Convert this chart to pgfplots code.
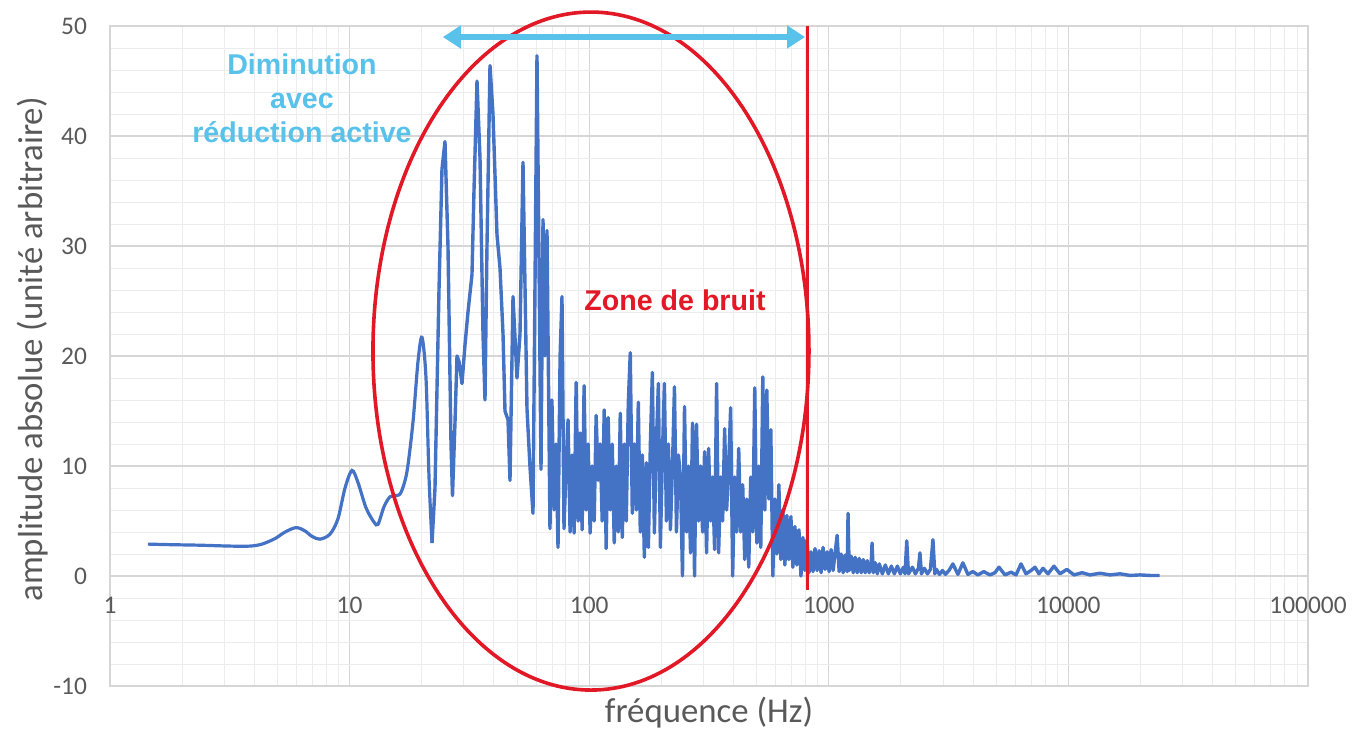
\documentclass[border=0pt]{standalone}
\usepackage{fontspec}
\setmainfont{Carlito}
\newfontfamily\arialfont{Liberation Sans}
\usepackage{pgfplots}
\pgfplotsset{compat=1.18}
\usetikzlibrary{arrows.meta}

\definecolor{curve}{RGB}{68,114,196}
\definecolor{zone}{RGB}{226,24,38}
\definecolor{dimin}{RGB}{88,194,234}
\definecolor{txt}{RGB}{89,89,89}
\definecolor{gridmaj}{RGB}{214,214,214}
\definecolor{gridmin}{RGB}{236,236,236}

\begin{document}
\begin{tikzpicture}
\begin{axis}[
  at={(0,0)}, anchor=south west,
  scale only axis,
  width=599pt, height=330pt,
  xmode=log, log basis x=10,
  xmin=1, xmax=100000,
  ymin=-10, ymax=50,
  xtick={1,10,100,1000,10000,100000},
  xticklabels={1,10,100,1000,10000,100000},
  minor xtick={2,3,4,5,6,7,8,9,20,30,40,50,60,70,80,90,200,300,400,500,600,700,800,900,2000,3000,4000,5000,6000,7000,8000,9000,20000,30000,40000,50000,60000,70000,80000,90000},
  ytick={-10,0,10,20,30,40,50},
  yticklabels={-10,0,10,20,30,40,50},
  minor ytick={-8,-6,-4,-2,2,4,6,8,12,14,16,18,22,24,26,28,32,34,36,38,42,44,46,48},
  grid=both,
  major grid style={draw=gridmaj, line width=0.6pt},
  minor grid style={draw=gridmin, line width=0.5pt},
  axis line style={draw=gridmaj, line width=0.6pt},
  major tick length=0pt, minor tick length=0pt,
  tick label style={font=\fontsize{12.7}{15}\selectfont, text=txt},
  xticklabel style={anchor=center, yshift=40.5pt},
  yticklabel style={xshift=-8pt},
  label style={font=\fontsize{17.4}{20}\selectfont, text=txt},
  xlabel={fréquence (Hz)},
  ylabel={amplitude absolue (unité arbitraire)},
  xlabel style={at={(axis description cs:0.5,0)}, anchor=center, yshift=-13.5pt},
  ylabel style={at={(axis description cs:-0.0643,0.51)}, anchor=center},
  clip=false,
]
% low frequency part, smooth
\addplot[curve, line width=1.6pt, smooth, tension=0.5] coordinates {
  (1.44,2.9) (1.78,2.85) (2.38,2.8) (3.17,2.72) (3.84,2.72) (4.31,2.9)
  (4.88,3.4) (5.38,4.0) (5.98,4.4) (6.51,4.1) (6.97,3.6) (7.52,3.35)
  (8.28,3.8) (8.94,5.2) (9.57,8.0) (10.23,9.6) (10.84,8.5) (11.71,6.2)
  (12.64,4.9) (13.14,4.7) (13.92,6.3) (14.74,7.2) (15.62,7.3) (16.39,7.6)
  (17.36,9.5) (18.39,14) (19.30,19.5) (20.05,21.7) (20.84,18) (21.45,9)
  (22.08,3.0)
};
% resonances, noise zone and high frequency tail
\addplot[curve, line width=1.7pt, line join=round] coordinates {
  (22.08,3.0) (22.72,8) (23.61,26) (24.30,37) (25.01,39.5) (25.74,30)
  (26.50,12) (26.88,7.3) (27.54,14) (28.07,20) (28.62,19.5) (29.45,17.5)
  (30.31,21) (31.20,24) (32.42,27.4) (33.05,35) (34.02,45) (35.02,38)
  (36.04,22) (36.74,16) (37.45,30) (38.55,46.4) (39.67,42) (41.23,31)
  (42.44,28) (43.68,22) (44.52,15) (45.83,14.2) (46.71,8.7) (48.08,25.4)
  (49.96,18) (51.43,22) (52.93,37.6) (55.00,15.2) (56.62,9.9) (58.27,5.7)
  (60.55,47.3) (62.93,9.7) (64.15,32.4) (65.39,20) (66.66,31.4)
  (68.6,4.3) (69.9,16) (71.3,6) (72.7,12) (74.1,2.6) (75.6,20) (77.0,25.4)
  (78.5,4.3) (80.1,10) (81.6,14.2) (83.2,4) (84.8,11) (86.5,3.9) (88.2,17.6)
  (89.9,5) (91.6,13) (93.4,4.2) (95.2,17.3) (97.1,6) (99.0,12) (100.9,3.9)
  (102.9,10) (104.9,5) (106.9,14.6) (109.0,8.7) (111.1,12) (113.3,5)
  (115.5,15.1) (117.7,2.5) (120.0,14.4) (122.4,6) (124.8,12) (127.2,3)
  (129.7,10) (132.2,4) (134.8,14.8) (137.4,3.5) (140.1,12) (142.8,5)
  (145.6,15.7) (148.4,20.3) (151.3,5.7) (154.3,12) (157.3,6) (160.3,15.8)
  (163.4,4) (166.6,11) (169.9,1.7) (173.2,10.3) (176.6,2.6) (180.0,12)
  (183.5,18.5) (187.1,3.9) (190.7,12) (194.4,17.5) (198.2,2.6) (202.1,11)
  (206.0,17.5) (210.0,5) (214.1,12) (218.3,4.2) (222.6,10) (226.9,17.2)
  (231.3,4) (235.8,11) (240.4,9) (245.1,0) (249.9,15.4) (254.8,4)
  (259.7,10) (264.8,2.1) (269.9,13.9) (275.2,0) (280.5,13.8) (286.0,5)
  (291.6,10) (297.3,4) (303.0,11.3) (308.9,2.1) (315.0,11.6) (321.1,5)
  (327.3,9) (333.7,2.4) (340.2,17.5) (346.9,2.1) (353.6,9) (360.5,5)
  (367.5,13.4) (374.7,6) (382.0,10) (389.4,15.3) (397.0,0) (404.7,9)
  (412.6,4) (420.7,11.6) (428.9,4) (437.2,8.3) (445.7,1.5) (454.4,7)
  (463.3,0.8) (472.3,9) (481.5,4) (490.9,17.1) (500.5,3) (510.2,10)
  (520.1,2.6) (530.3,18.1) (540.6,6) (551.1,16.9) (561.9,7) (572.8,13.3)
  (584.0,0) (595.4,7) (607.0,2) (618.8,8.3) (630.9,1.5) (643.2,6)
  (655.7,1) (668.5,5.5) (681.5,1.5) (694.8,5.4) (708.3,0.8) (722.1,4.5)
  (736.2,1) (750.5,4.2) (765.2,0) (780.1,3.5) (795.3,0.5) (810.8,3.3)
  (826.6,0.3) (842.7,2.2) (859.1,0.4) (875.9,2.5) (893.0,0.5) (910.4,2.3)
  (928.1,0.3) (946.2,2.6) (964.7,0.6) (983.5,2.2) (1002.7,0.4) (1022.2,2.4)
  (1042.2,0.5) (1062.5,2.1) (1083.2,3.7) (1104.4,0.4) (1125.9,2.0)
  (1147.9,0.3) (1170.3,1.9) (1193.1,0.4) (1203,5.7) (1216.4,0.5)
  (1240.1,1.8) (1264.3,0.3) (1288.9,1.7) (1314.1,0.3) (1339.7,1.6)
  (1365.8,0.3) (1392.5,1.5) (1419.6,0.3) (1447.3,1.4) (1475.5,0.3)
  (1504.3,1.3) (1515,3.0) (1533.7,0.3) (1563.6,1.2) (1594.1,0.2)
  (1625.2,1.1) (1673,0.2) (1722,1.0) (1772,0.2) (1824,0.9) (1878,0.2)
  (1933,0.9) (1989,0.2) (2048,0.8) (2080,0.2) (2115,3.2) (2150,0.2)
  (2233,0.8) (2298,0.2) (2366,0.7) (2401,2.1) (2435,0.2) (2506,0.7)
  (2580,0.2) (2655,0.6) (2720,3.3) (2770,0.2) (2813,0.6) (2896,0.15)
  (2981,0.5) (3068,0.15) (3172,0.5) (3296,1.1) (3458,0.15)
  (3628,1.2) (3806,0.15) (3993,0.4) (4189,0.1) (4435,0.4) (4705,0.1)
  (4936,0.3) (5131,0.8) (5436,0.1) (5763,0.35) (6045,0.1) (6342,1.1)
  (6654,0.2) (6980,0.5) (7254,0.8) (7538,0.2) (7834,0.7) (8219,0.2)
  (8705,0.9) (9220,0.2) (9852,0.6) (10553,0.1) (11397,0.3) (12307,0.1)
  (13549,0.25) (14916,0.1) (16420,0.2) (18076,0.05) (19897,0.1)
  (21903,0.05) (24000,0.05)
};

% annotations
\draw[zone, line width=1.8pt] (axis cs:101.7,20.45) ellipse [x radius=109pt, y radius=169.5pt];
\draw[zone, line width=1.5pt] (axis cs:811,50) -- (axis cs:811,-1.3);
\draw[dimin, line width=3pt, {Triangle[length=9pt,width=11pt]}-{Triangle[length=9pt,width=11pt]}]
  (axis cs:24.5,49) -- (axis cs:796,49);
\node[font=\arialfont\bfseries\fontsize{14.3}{17}\selectfont, text=dimin, align=center]
  at (axis cs:6.33,43.4) {Diminution\\avec\\réduction active};
\node[font=\arialfont\bfseries\fontsize{14.3}{17}\selectfont, text=zone]
  at (axis cs:228.1,25.1) {Zone de bruit};
\end{axis}
\pgfresetboundingbox
\path[use as bounding box] (-55pt,-22pt) rectangle (629.5pt,343pt);
\end{tikzpicture}
\end{document}
